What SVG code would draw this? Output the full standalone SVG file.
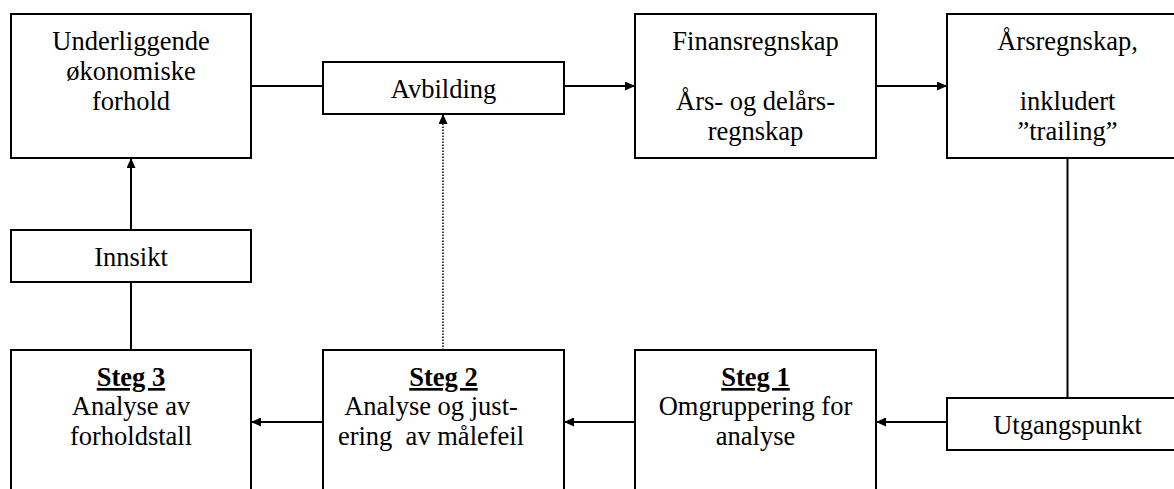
<svg xmlns="http://www.w3.org/2000/svg" width="1174" height="489" viewBox="0 0 1174 489">
<style>
.box{fill:#fff;stroke:#000;stroke-width:2}
text{font-family:"Liberation Serif","Times New Roman",serif;font-size:26.5px;fill:#000;text-anchor:middle}
.b{font-weight:bold;text-decoration:underline}
.c{stroke:#000;stroke-width:2;fill:none}
.d{stroke:#000;stroke-width:1.5;fill:none;stroke-dasharray:1.5 1.5}
</style>
<defs>
<marker id="ah" markerUnits="userSpaceOnUse" markerWidth="10" markerHeight="9" refX="10" refY="4.5" orient="auto">
<path d="M0,0 L10,4.5 L0,9 z" fill="#000"/>
</marker>
</defs>
<rect width="1174" height="489" fill="#fff"/>
<g id="connectors">
<line class="c" x1="251" y1="86" x2="323" y2="86"/>
<line class="c" x1="564" y1="86" x2="635" y2="86" marker-end="url(#ah)"/>
<line class="c" x1="876" y1="86" x2="947" y2="86" marker-end="url(#ah)"/>
<line class="c" x1="1067.5" y1="158" x2="1067.5" y2="398"/>
<line class="c" x1="947" y1="422" x2="876" y2="422" marker-end="url(#ah)"/>
<line class="c" x1="635" y1="422" x2="564" y2="422" marker-end="url(#ah)"/>
<line class="c" x1="323" y1="422" x2="251" y2="422" marker-end="url(#ah)"/>
<line class="c" x1="131" y1="350" x2="131" y2="282"/>
<line class="c" x1="131" y1="230" x2="131" y2="158" marker-end="url(#ah)"/>
<line class="d" x1="443" y1="350" x2="443" y2="114" marker-end="url(#ah)"/>
</g>
<g id="underliggende">
<rect class="box" x="11" y="14" width="240" height="144"/>
<text x="131" y="50">Underliggende</text>
<text x="131" y="80">økonomiske</text>
<text x="131" y="110">forhold</text>
</g>
<g id="avbilding">
<rect class="box" x="323" y="62" width="241" height="52"/>
<text x="443.5" y="98">Avbilding</text>
</g>
<g id="finansregnskap">
<rect class="box" x="635" y="14" width="241" height="144"/>
<text x="755.5" y="50">Finansregnskap</text>
<text x="755.5" y="110">Års- og delårs-</text>
<text x="755.5" y="140">regnskap</text>
</g>
<g id="arsregnskap">
<rect class="box" x="947" y="14" width="241" height="144"/>
<text x="1067.5" y="50">Årsregnskap,</text>
<text x="1067.5" y="110">inkludert</text>
<text x="1067.5" y="140">”trailing”</text>
</g>
<g id="innsikt">
<rect class="box" x="11" y="230" width="240" height="52"/>
<text x="131" y="266">Innsikt</text>
</g>
<g id="utgangspunkt">
<rect class="box" x="947" y="398" width="241" height="52"/>
<text x="1067.5" y="434">Utgangspunkt</text>
</g>
<g id="steg3">
<rect class="box" x="11" y="350" width="240" height="150"/>
<text class="b" x="131" y="386">Steg 3</text>
<text x="131" y="415">Analyse av</text>
<text x="131" y="445">forholdstall</text>
</g>
<g id="steg2">
<rect class="box" x="323" y="350" width="241" height="150"/>
<text class="b" x="443.5" y="386">Steg 2</text>
<text x="431" y="415">Analyse og just-</text>
<text x="431" y="445" xml:space="preserve">ering  av målefeil</text>
</g>
<g id="steg1">
<rect class="box" x="635" y="350" width="241" height="150"/>
<text class="b" x="755.5" y="386">Steg 1</text>
<text x="755.5" y="415">Omgruppering for</text>
<text x="755.5" y="445">analyse</text>
</g>
</svg>
